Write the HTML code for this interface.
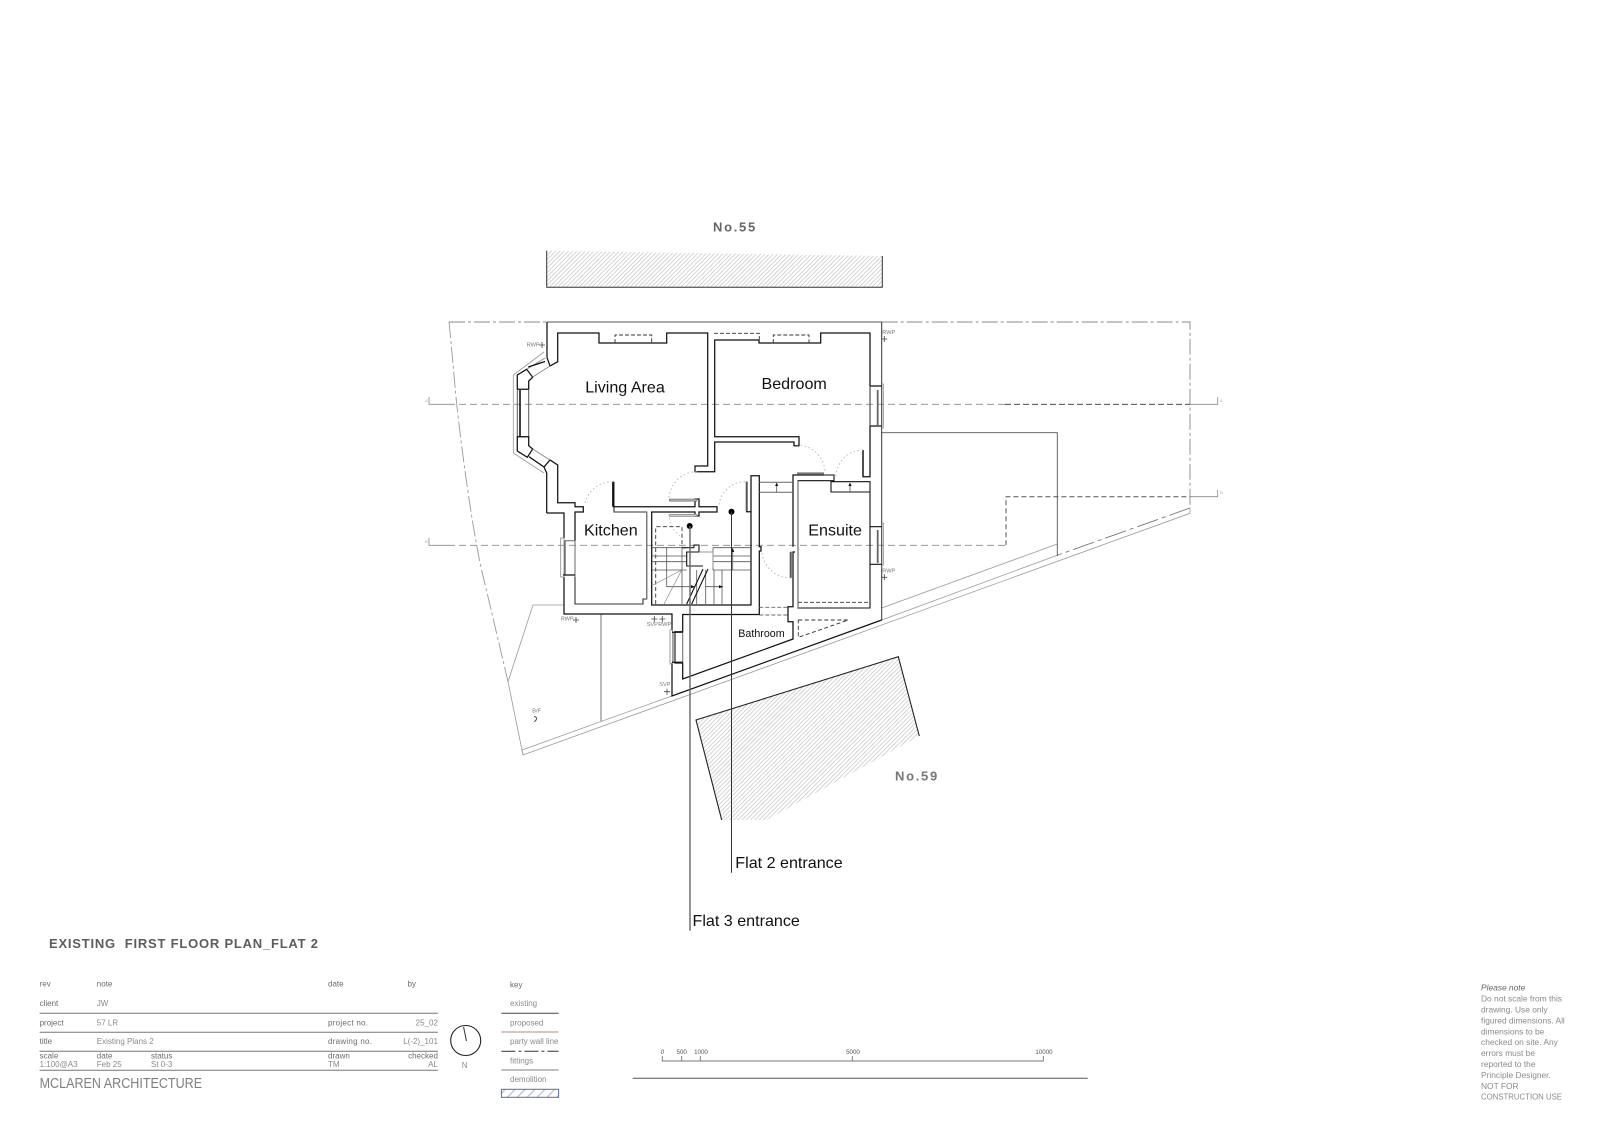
<!DOCTYPE html>
<html>
<head>
<meta charset="utf-8">
<style>
html,body{margin:0;padding:0;background:#fff;}
svg{display:block;}
text{font-family:"Liberation Sans",sans-serif;}
.room{fill:#111;font-size:16.1px;}
.tb{fill:#8a8a8a;font-size:8px;}
.tbd{fill:#6c6c6c;font-size:8px;}
.tiny{fill:#777;font-size:5.6px;}
.note{fill:#8a8a8a;font-size:8.4px;}
.sc{fill:#555;font-size:6.2px;}
.k{fill:none;stroke:#111;stroke-width:1.25;}
.m{fill:none;stroke:#333;stroke-width:1;}
.g{fill:none;stroke:#777;stroke-width:1.1;}
.t{fill:none;stroke:#999;stroke-width:.8;}
.d{fill:none;stroke:#333;stroke-width:.9;stroke-dasharray:5 3;}
.arc{fill:none;stroke:#bbb;stroke-width:1;stroke-dasharray:1.5 2.5;}
.s{fill:none;stroke:#555;stroke-width:.8;}
</style>
</head>
<body>
<svg width="1600" height="1131" viewBox="0 0 1600 1131" xmlns="http://www.w3.org/2000/svg">
<defs>
<pattern id="h" width="3" height="3" patternUnits="userSpaceOnUse" patternTransform="rotate(45)">
<rect width="3" height="3" fill="#fff"/><rect width="1" height="3" fill="#d4d4d4"/>
</pattern>
<pattern id="b" width="7" height="7" patternUnits="userSpaceOnUse" patternTransform="rotate(45)">
<rect width="7" height="7" fill="#fff"/><rect width="1.2" height="7" fill="#b4bce0"/>
</pattern>
</defs>
<rect width="1600" height="1131" fill="#fff"/>

<!-- neighbours -->
<polygon points="546.7,250.7 882.3,256 882.3,287.3 546.7,287.3" fill="url(#h)"/>
<path d="M546.7 250.7V287.3H882.3V256" fill="none" stroke="#333" stroke-width="1"/>
<polygon points="696,720 898.3,656.7 919.3,736 766.7,820 721.7,820" fill="url(#h)"/>
<path d="M721.7 820L696 720L898.3 656.7L919.3 736" fill="none" stroke="#222" stroke-width="1.1"/>
<text x="713" y="231.7" font-size="13" font-weight="bold" letter-spacing="1.7" fill="#666">No.55</text>
<text x="895" y="780.7" font-size="13" font-weight="bold" letter-spacing="1.7" fill="#777">No.59</text>

<!-- site boundary -->
<path d="M449 322H547M881.7 322H1190V508" fill="none" stroke="#888" stroke-width=".9" stroke-dasharray="16 3 3 3"/>
<path d="M449 322C452 350 454 378 456.7 404C462 452 470 510 476.7 545C480 565 484 580 488 596.7L508 681.7" fill="none" stroke="#999" stroke-width=".9" stroke-dasharray="16 3 3 3"/>
<path d="M1190 508V513.3L523 755L508 681.7" class="t"/>
<path d="M1190 508L1058 555" fill="none" stroke="#777" stroke-width=".9" stroke-dasharray="22 4 4 4"/>
<path d="M1058 555L881.7 620M671.7 696L522 750L523 755" class="t"/>
<path d="M881.7 608L1057.3 544" class="t"/>
<path d="M508 681.7L533 605H563" class="t"/>
<path d="M601 614V721" fill="none" stroke="#666" stroke-width=".9"/>
<path d="M881.7 432.7H1057.3V556" fill="none" stroke="#555" stroke-width=".9"/>

<!-- section lines -->
<path d="M448 404.3H1005" fill="none" stroke="#888" stroke-width=".8" stroke-dasharray="7 4"/>
<path d="M1005 404.3H1190" fill="none" stroke="#333" stroke-width=".9" stroke-dasharray="6 3"/>
<path d="M429 397V404.3H448M1190 404.3H1217.7V397" fill="none" stroke="#888" stroke-width=".8"/>
<path d="M448 545.3H1006" fill="none" stroke="#888" stroke-width=".8" stroke-dasharray="7 4"/>
<path d="M1006 545.3V496.7H1190" fill="none" stroke="#555" stroke-width="1" stroke-dasharray="5 3"/>
<path d="M429 538V545.3H448M1190 496.7H1217.7V490" fill="none" stroke="#888" stroke-width=".8"/>
<text x="425" y="402" font-size="4" fill="#aaa">A</text>
<text x="425" y="543" font-size="4" fill="#aaa">B</text>
<text x="1220" y="402" font-size="4" fill="#aaa">A</text>
<text x="1220" y="494" font-size="4" fill="#aaa">B</text>

<!-- outer walls -->
<path d="M881.7 322H547" fill="none" stroke="#555" stroke-width="1"/>
<path d="M881.7 322V620" class="m"/>
<path d="M547 322V357.5L550 366L557.7 361.7V333H599V343H666.7V333H707.7V466H695V471.7H714.7V442H794V445.7H799V436.7H714.7V340H759V343H820.7V333H870V386H881.7M870 426H881.7M870 426V476.7H863V450" class="k"/>
<path d="M870 386V426" class="k" style="stroke:#555"/>
<path d="M546.7 513V473L544 467L550 460L557.7 465V502.7H575V506.7H583.3V512H575V540.7" class="k"/>
<path d="M546.7 513H564V538M564 577V614H672V630M672 663V696L881.7 620" class="k"/>
<path d="M575 577V604H643V599H646.7V512H614V506.7V481.7" class="k" style="stroke-width:1.1;stroke:#333"/>
<path d="M613 481.7V506.7" class="k" style="stroke-width:1.8"/>
<path d="M613 506.7H695V499H699V506.7H717V512H699V516H695V512H651.7V605H751V511.7H746.7V481.7" class="k"/>
<path d="M751 511.7V475.7H759.3V546.7H761V551H759.3V614.5H682.7V631.7H675V663H682.7V679L793 639V621.7H788V606.7H793V552H795M793 546.7V475H824" class="k"/>
<path d="M793 475H834V480.7H798V608H870V564.3H881.7M870 564.3V526.7H881.7M870 526.7V481.7H831V492H870" class="k" style="stroke-width:1.1"/>
<path d="M798 480.7V608M682.7 631.7V663M575 540.7V577M646.7 512V599" fill="none" stroke="#777" stroke-width="1.1"/>

<!-- bay window -->
<path d="M526.7 369.3L517.3 375V389.3H528.7V381L532.7 377.3Z" class="k"/>
<path d="M517.3 389.3V436.7H528.7V389.3" fill="none" stroke="#555" stroke-width="1"/>
<path d="M520 390V437" class="k" style="stroke-width:1.6"/>
<path d="M517.3 436.7H528.7V445.7L532.7 449L527.3 457.3L517.3 451Z" class="k"/>
<path d="M527 369L545 358M532.7 377L550 366M532.7 449L550 460" fill="none" stroke="#888" stroke-width="1"/>
<path d="M528.3 367L545 361.5M529 456.7L544 467" class="k"/>
<path d="M544 352L513.3 375V453L544 473" class="t"/>

<!-- windows -->
<rect x="560.7" y="538" width="3.3" height="39" fill="none" stroke="#888" stroke-width=".8"/>
<path d="M565 540V575" class="k" style="stroke:#555"/>
<path d="M564 540.7H575" class="g"/>
<path d="M563 575H575" class="k"/>
<rect x="670" y="630" width="2.5" height="34" fill="none" stroke="#888" stroke-width=".8"/>
<path d="M674.3 632V662" fill="none" stroke="#777" stroke-width="1.8"/>
<path d="M672 632.3H682.7M672 662.3H682.7" class="k"/>
<path d="M877.7 390V425" fill="none" stroke="#666" stroke-width="1.8"/>
<path d="M881.7 384H883.3V428H881.7" fill="none" stroke="#888" stroke-width=".8"/>
<path d="M877.7 530V563" fill="none" stroke="#666" stroke-width="1.8"/>
<path d="M881.7 523H883.3V565H881.7" fill="none" stroke="#888" stroke-width=".8"/>

<!-- door leaves -->
<rect x="669.3" y="499" width="27.7" height="2.2" fill="#aaa" stroke="#666" stroke-width=".5"/>
<rect x="669.3" y="514.3" width="27.7" height="2.2" fill="#ccc" stroke="#666" stroke-width=".5"/>
<path d="M746.7 481.7V511" fill="none" stroke="#555" stroke-width="2"/>
<path d="M797 473.5H824" fill="none" stroke="#777" stroke-width="2.2"/>
<path d="M863 450V476" fill="none" stroke="#444" stroke-width="1.8"/>
<path d="M790.7 551.7V578" fill="none" stroke="#555" stroke-width="2"/>

<!-- door arcs -->
<path d="M612.7 481.7A28 28 0 0 0 585 503" class="arc"/>
<path d="M696.7 471.7A28 28 0 0 0 669 499" class="arc"/>
<path d="M669 514A28 28 0 0 0 683 538" class="arc"/>
<path d="M745 481.7A26 26 0 0 0 719 506.7" class="arc"/>
<path d="M796.7 445A28 28 0 0 1 825 473" class="arc"/>
<path d="M863 450A27 27 0 0 0 836 476.7" class="arc"/>
<path d="M790.7 578A29 29 0 0 1 761.7 552" class="arc"/>

<!-- dashed features -->
<path d="M615 343V335H651.7V343" class="d" style="stroke-dasharray:4 2"/>
<path d="M714 333.3H759.3V340" class="d" style="stroke-dasharray:4 2"/>
<path d="M773.3 343V335H809V343" class="d" style="stroke-dasharray:4 2"/>
<path d="M798 602.3H870" class="d" style="stroke-dasharray:4 2"/>
<path d="M759.3 607.3H788M759.3 615H788" class="d" style="stroke-dasharray:4 2;stroke:#666"/>
<path d="M798.3 620H848.3L798.3 637.3Z" class="d" style="stroke-dasharray:4 2.5"/>
<path d="M655.7 604V526.7H682V547" class="d" style="stroke-dasharray:4 2.5"/>

<!-- closets -->
<path d="M759.3 482.3H793M759.3 492.3H793" fill="none" stroke="#666" stroke-width="1"/>
<path d="M776.7 484V492M850 484V492" class="s"/>
<path d="M776.7 482.5l-1.6 3.5h3.2zM850 482.5l-1.6 3.5h3.2z" fill="#111"/>

<!-- stairs -->
<path d="M652 547.7H686.7M652 556H686.7M652 561.7H686.7M652 570H686.7M713 547.7H751M713 556H751M713 561.7H751M713 570H751" class="s"/>
<path d="M666.7 547.7V586.7H695M682 547.7V604M713 547.7V570M732.7 548V570M696.7 570V604M705.7 570V604M714 570V604M722 570V604M705 586.7H723" class="s"/>
<path d="M653 585L681.7 570M664 604L681.7 570" fill="none" stroke="#888" stroke-width=".7"/>
<path d="M694 547.7V545H699V552H686.7V566H703" class="k" style="stroke-width:1.1"/>
<path d="M694 547.7H682" class="k" style="stroke-width:1.1"/>
<path d="M703 569L686.7 604M708 569L691.7 604" class="k" style="stroke-width:1.1"/>
<path d="M699 552H713V568" fill="none" stroke="#999" stroke-width="1.1"/>
<path d="M732.7 548l-1.6 4h3.2zM695 586.7l-4-1.6v3.2zM723 586.7l-4-1.6v3.2z" fill="#111"/>

<!-- entrance leaders -->
<circle cx="689.7" cy="526" r="3" fill="#000"/>
<circle cx="731.5" cy="511.7" r="3" fill="#000"/>
<path d="M690 526V930.7" fill="none" stroke="#666" stroke-width="1.4"/>
<path d="M731.5 511.7V872.7" fill="none" stroke="#333" stroke-width="1"/>

<!-- labels -->
<text class="room" x="585.2" y="392.7">Living Area</text>
<text class="room" x="761.5" y="389">Bedroom</text>
<text class="room" x="584" y="535.7">Kitchen</text>
<text class="room" x="808.3" y="535.7">Ensuite</text>
<text x="738.3" y="637" font-size="10.7" fill="#111">Bathroom</text>
<text class="room" x="735.3" y="868">Flat 2 entrance</text>
<text class="room" x="692.5" y="926">Flat 3 entrance</text>

<!-- service labels -->
<text class="tiny" x="526.7" y="346.7">RWP</text>
<text class="tiny" x="882.3" y="334">RWP</text>
<text class="tiny" x="882.3" y="572.7">RWP</text>
<text class="tiny" x="560.7" y="620.7">RWP</text>
<text class="tiny" x="646.7" y="626">SVP</text>
<text class="tiny" x="658.3" y="626">RWP</text>
<text class="tiny" x="659.3" y="686">SVP</text>
<text class="tiny" x="532.3" y="712.7">B/F</text>
<path d="M539 345h6M542 342v6M881.3 339h6M884.3 336v6M881.3 577.3h6M884.3 574.3v6M573 620h6M576 617v6M651.3 619h6M654.3 616v6M659.3 619h6M662.3 616v6M664 691.7h6M667 688.7v6" fill="none" stroke="#444" stroke-width=".8"/>
<path d="M534 716.5q3 .5 2.5 2.5t-2.5 2.5" fill="none" stroke="#444" stroke-width=".9"/>

<!-- title -->
<text x="49" y="948" font-size="13" font-weight="bold" fill="#5c5c5c" textLength="269" lengthAdjust="spacing" xml:space="preserve">EXISTING  FIRST FLOOR PLAN_FLAT 2</text>

<!-- title block -->
<path d="M39.6 1013.3H437.9M39.6 1032.3H437.9M39.6 1051.3H437.9M39.6 1070.3H437.9" fill="none" stroke="#777" stroke-width="1"/>
<text class="tbd" x="39.6" y="986.7">rev</text>
<text class="tbd" x="96.8" y="986.7">note</text>
<text class="tbd" x="328" y="986.7">date</text>
<text class="tbd" x="407.5" y="986.7">by</text>
<text class="tbd" x="39.6" y="1006">client</text>
<text class="tb" x="96.8" y="1006">JW</text>
<text class="tbd" x="39.6" y="1025.3">project</text>
<text class="tb" x="96.8" y="1025.3">57 LR</text>
<text class="tbd" x="328" y="1025.3" textLength="40">project no.</text>
<text class="tb" x="437.9" y="1025.3" text-anchor="end">25_02</text>
<text class="tbd" x="39.6" y="1044">title</text>
<text class="tb" x="96.8" y="1044">Existing Plans 2</text>
<text class="tbd" x="328" y="1044" textLength="44">drawing no.</text>
<text class="tb" x="437.9" y="1044" text-anchor="end">L(-2)_101</text>
<text class="tbd" x="39.6" y="1058.7">scale</text>
<text class="tbd" x="96.8" y="1058.7">date</text>
<text class="tbd" x="151" y="1058.7">status</text>
<text class="tbd" x="328" y="1058.7">drawn</text>
<text class="tbd" x="437.9" y="1058.7" text-anchor="end">checked</text>
<text class="tb" x="39.6" y="1067">1:100@A3</text>
<text class="tb" x="96.8" y="1067">Feb 25</text>
<text class="tb" x="151" y="1067">St 0-3</text>
<text class="tb" x="328" y="1067">TM</text>
<text class="tb" x="437.9" y="1067" text-anchor="end">AL</text>
<text x="39.6" y="1088" font-size="14.5" fill="#808080" textLength="162.5" lengthAdjust="spacingAndGlyphs">MCLAREN ARCHITECTURE</text>

<!-- north -->
<circle cx="465.7" cy="1040.5" r="15" fill="none" stroke="#222" stroke-width="1.1"/>
<path d="M463.6 1027L466.4 1041" fill="none" stroke="#333" stroke-width="1"/>
<text class="tb" x="464.6" y="1068" text-anchor="middle">N</text>

<!-- key -->
<text class="tbd" x="510" y="987.3">key</text>
<text class="tb" x="510" y="1006">existing</text>
<text class="tb" x="510" y="1025.3">proposed</text>
<text class="tb" x="510" y="1044">party wall line</text>
<text class="tb" x="510" y="1063.3">fittings</text>
<text class="tb" x="510" y="1082">demolition</text>
<path d="M501.4 1013.3H558.6" fill="none" stroke="#444" stroke-width="1"/>
<path d="M501.4 1032H558.6" fill="none" stroke="#c4a49c" stroke-width="1.2"/>
<path d="M501.4 1051.3H558.6" fill="none" stroke="#333" stroke-width="1" stroke-dasharray="14 3 3 3"/>
<path d="M501.4 1070H558.6" fill="none" stroke="#999" stroke-width="1.2"/>
<rect x="501.4" y="1089.3" width="57.2" height="8" fill="url(#b)" stroke="#5a68a8" stroke-width="1"/>

<!-- scale -->
<path d="M662.3 1056V1061H1043.3V1056M681.7 1056V1061M700.3 1056V1061M852.3 1056V1061" fill="none" stroke="#777" stroke-width=".9"/>
<text class="sc" x="662.3" y="1054" text-anchor="middle" font-style="italic">0</text>
<text class="sc" x="681.7" y="1054" text-anchor="middle">500</text>
<text class="sc" x="701" y="1054" text-anchor="middle">1000</text>
<text class="sc" x="853" y="1054" text-anchor="middle">5000</text>
<text class="sc" x="1044" y="1054" text-anchor="middle">10000</text>
<path d="M632.6 1078.3H1087.7" fill="none" stroke="#555" stroke-width="1"/>

<!-- note -->
<text class="note" x="1481" y="990.7" font-style="italic" style="fill:#666">Please note</text>
<text class="note" x="1481" y="1001.6">Do not scale from this</text>
<text class="note" x="1481" y="1012.5">drawing. Use only</text>
<text class="note" x="1481" y="1023.4">figured dimensions. All</text>
<text class="note" x="1481" y="1034.3">dimensions to be</text>
<text class="note" x="1481" y="1045.2">checked on site. Any</text>
<text class="note" x="1481" y="1056.1">errors  must be</text>
<text class="note" x="1481" y="1067">reported to the</text>
<text class="note" x="1481" y="1077.9">Principle Designer.</text>
<text class="note" x="1481" y="1088.8">NOT FOR</text>
<text class="note" x="1481" y="1099.7" textLength="81" lengthAdjust="spacingAndGlyphs">CONSTRUCTION USE</text>
</svg>
</body>
</html>
